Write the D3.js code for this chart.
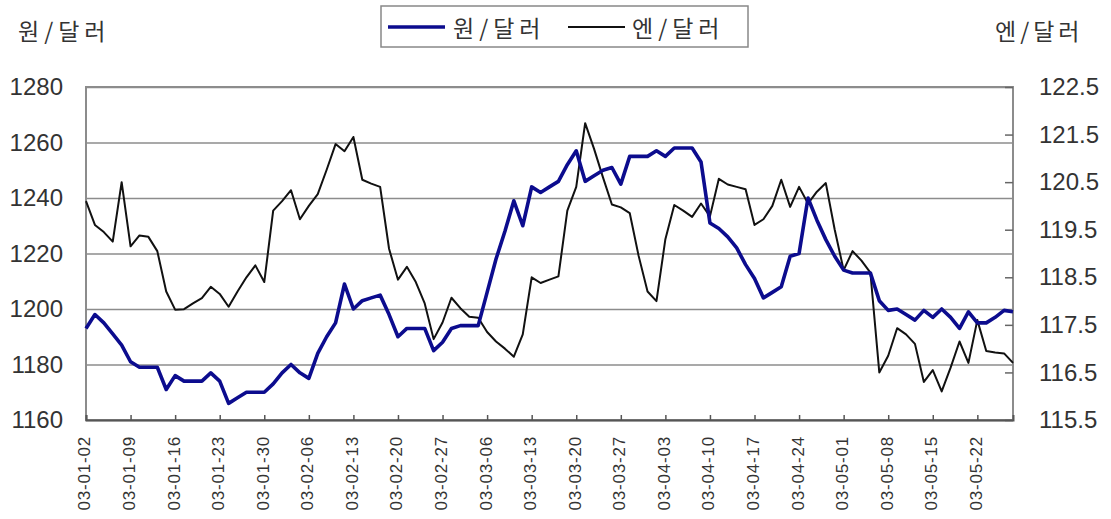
<!DOCTYPE html>
<html>
<head>
<meta charset="utf-8">
<script src="https://cdn.jsdelivr.net/npm/d3@7"></script>
<style>
  html, body { margin: 0; padding: 0; background: #fff; }
  svg { display: block; }
  .tick-text { font-family: "Liberation Sans", Arial, sans-serif; fill: #333; }
  .kr { font-family: "Noto Sans CJK KR", sans-serif; fill: #333; }
</style>
</head>
<body>
<svg id="chart" width="1111" height="519"></svg>
<script>
// ── 원/달러 · 엔/달러 환율 (2003-01 ~ 2003-05) ──────────────────────────

const dates = [
  "03-01-02","03-01-03","03-01-06","03-01-07","03-01-08","03-01-09","03-01-10","03-01-13","03-01-14","03-01-15",
  "03-01-16","03-01-17","03-01-20","03-01-21","03-01-22","03-01-23","03-01-24","03-01-27","03-01-28","03-01-29",
  "03-01-30","03-01-31","03-02-03","03-02-04","03-02-05","03-02-06","03-02-07","03-02-10","03-02-11","03-02-12",
  "03-02-13","03-02-14","03-02-17","03-02-18","03-02-19","03-02-20","03-02-21","03-02-24","03-02-25","03-02-26",
  "03-02-27","03-02-28","03-03-03","03-03-04","03-03-05","03-03-06","03-03-07","03-03-10","03-03-11","03-03-12",
  "03-03-13","03-03-14","03-03-17","03-03-18","03-03-19","03-03-20","03-03-21","03-03-24","03-03-25","03-03-26",
  "03-03-27","03-03-28","03-03-31","03-04-01","03-04-02","03-04-03","03-04-04","03-04-07","03-04-08","03-04-09",
  "03-04-10","03-04-11","03-04-14","03-04-15","03-04-16","03-04-17","03-04-18","03-04-21","03-04-22","03-04-23",
  "03-04-24","03-04-25","03-04-28","03-04-29","03-04-30","03-05-01","03-05-02","03-05-05","03-05-06","03-05-07",
  "03-05-08","03-05-09","03-05-12","03-05-13","03-05-14","03-05-15","03-05-16","03-05-19","03-05-20","03-05-21",
  "03-05-22","03-05-23","03-05-26","03-05-27","03-05-28"
];

// 원/달러 (left axis)
const won = [
  1193, 1198, 1195, 1191, 1187, 1181, 1179, 1179, 1179, 1171,
  1176, 1174, 1174, 1174, 1177, 1174, 1166, 1168, 1170, 1170,
  1170, 1173, 1177, 1180, 1177, 1175, 1184, 1190, 1195, 1209,
  1200, 1203, 1204, 1205, 1198, 1190, 1193, 1193, 1193, 1185,
  1188, 1193, 1194, 1194, 1194, 1206, 1218, 1228, 1239, 1230,
  1244, 1242, 1244, 1246, 1252, 1257, 1246, 1248, 1250, 1251,
  1245, 1255, 1255, 1255, 1257, 1255, 1258, 1258, 1258, 1253,
  1231, 1229, 1226, 1222, 1216, 1211, 1204, 1206, 1208, 1219,
  1220, 1240, 1232, 1225, 1219, 1214, 1213, 1213, 1213, 1203,
  1199.5, 1200, 1198, 1196, 1199.5, 1197, 1200, 1197, 1193, 1199,
  1195, 1195, 1197, 1199.5, 1199
];

// 엔/달러 (right axis)
const yen = [
  120.1, 119.6, 119.45, 119.25, 120.5, 119.15, 119.38, 119.35, 119.05, 118.2,
  117.82, 117.83, 117.95, 118.06, 118.3, 118.15, 117.88, 118.2, 118.5, 118.75,
  118.4, 119.9, 120.1, 120.33, 119.72, 120.0, 120.25, 120.76, 121.3, 121.15,
  121.45, 120.55, 120.47, 120.4, 119.1, 118.45, 118.72, 118.4, 117.95, 117.2,
  117.55, 118.07, 117.85, 117.67, 117.65, 117.35, 117.15, 117.0, 116.83, 117.3,
  118.5, 118.38, 118.45, 118.52, 119.9, 120.4, 121.74, 121.2, 120.6, 120.03,
  119.97, 119.85, 118.95, 118.2, 118.0, 119.3, 120.02, 119.9, 119.77, 120.05,
  119.78, 120.57, 120.45, 120.4, 120.35, 119.6, 119.72, 120.0, 120.55, 119.98,
  120.4, 120.05, 120.3, 120.48, 119.5, 118.65, 119.05, 118.85, 118.6, 116.5,
  116.85, 117.43, 117.3, 117.1, 116.3, 116.55, 116.1, 116.6, 117.15, 116.7,
  117.6, 116.95, 116.92, 116.9, 116.7
];

const wonTicks = [1160, 1180, 1200, 1220, 1240, 1260, 1280];
const yenTicks = [115.5, 116.5, 117.5, 118.5, 119.5, 120.5, 121.5, 122.5];
const dateTicks = dates.filter((d, i) => i % 5 === 0);
const seriesNames = ["원/달러", "엔/달러"];

const svg = d3.select("#chart");

// plot area
const margin = { top: 87, right: 98, bottom: 99, left: 86 };
const width = 1111, height = 519;
const innerWidth = width - margin.left - margin.right;
const innerHeight = height - margin.top - margin.bottom;

const xScale = d3.scalePoint().domain(dates).range([0, innerWidth]);
const yWon = d3.scaleLinear().domain([1160, 1280]).range([innerHeight, 0]);
const yYen = d3.scaleLinear().domain([115.5, 122.5]).range([innerHeight, 0]);

const group = svg.append("g").attr("transform", `translate(${margin.left},${margin.top})`);

// gridlines + left labels
const leftAxis = group.append("g")
  .call(d3.axisLeft(yWon).tickValues(wonTicks).tickSize(-innerWidth).tickPadding(23).tickFormat(d3.format("d")));
leftAxis.select(".domain").remove();
leftAxis.selectAll("line").attr("stroke", "#8c8c8c").attr("stroke-width", 1.6);
leftAxis.selectAll("text").attr("class", "tick-text").attr("font-size", 24);

// plot border
group.append("rect")
  .attr("x", 0).attr("y", 0)
  .attr("width", innerWidth).attr("height", innerHeight)
  .attr("fill", "none").attr("stroke", "#8c8c8c").attr("stroke-width", 2);

// right axis
const rightAxis = group.append("g")
  .attr("transform", `translate(${innerWidth},0)`)
  .call(d3.axisRight(yYen).tickValues(yenTicks).tickSize(-8).tickPadding(26).tickFormat(d3.format(".1f")));
rightAxis.select(".domain").remove();
rightAxis.selectAll("line").attr("stroke", "#666").attr("stroke-width", 1.5);
rightAxis.selectAll("text").attr("class", "tick-text").attr("font-size", 24);

// bottom axis
const xAxis = group.append("g")
  .attr("transform", `translate(0,${innerHeight})`)
  .call(d3.axisBottom(xScale).tickValues(dateTicks).tickSize(-5).tickPadding(0));
xAxis.select(".domain").attr("stroke", "#555").attr("stroke-width", 2);
xAxis.selectAll("line").attr("stroke", "#555").attr("stroke-width", 1.5);
xAxis.selectAll("text")
  .attr("class", "tick-text")
  .attr("font-size", 17)
  .attr("letter-spacing", 0.8)
  .attr("text-anchor", "end")
  .attr("transform", "rotate(-90)")
  .attr("x", -16)
  .attr("y", -2)
  .attr("dy", "0.35em");

// lines
const yenLine = d3.line().x((d, i) => xScale(dates[i])).y((d) => yYen(d));
const wonLine = d3.line().x((d, i) => xScale(dates[i])).y((d) => yWon(d));

group.append("path")
  .datum(yen)
  .attr("d", yenLine)
  .attr("fill", "none")
  .attr("stroke", "#111")
  .attr("stroke-width", 2)
  .attr("stroke-linejoin", "round");

group.append("path")
  .datum(won)
  .attr("d", wonLine)
  .attr("fill", "none")
  .attr("stroke", "#0c0c8e")
  .attr("stroke-width", 3.6)
  .attr("stroke-linejoin", "round");

// axis titles
svg.append("text").attr("class", "kr")
  .attr("x", 18).attr("y", 30)
  .attr("dominant-baseline", "central")
  .attr("font-size", 23).attr("letter-spacing", 5)
  .text(seriesNames[0]);
svg.append("text").attr("class", "kr")
  .attr("x", 995).attr("y", 30)
  .attr("dominant-baseline", "central")
  .attr("font-size", 23).attr("letter-spacing", 4)
  .text(seriesNames[1]);

// legend
const legend = svg.append("g");
legend.append("rect")
  .attr("x", 381).attr("y", 6)
  .attr("width", 367).attr("height", 41)
  .attr("fill", "#fff").attr("stroke", "#888").attr("stroke-width", 1.5);
legend.append("line")
  .attr("x1", 388).attr("x2", 445).attr("y1", 27).attr("y2", 27)
  .attr("stroke", "#0c0c8e").attr("stroke-width", 3.6);
legend.append("text").attr("class", "kr")
  .attr("x", 453).attr("y", 27)
  .attr("dominant-baseline", "central")
  .attr("font-size", 23).attr("letter-spacing", 5)
  .text(seriesNames[0]);
legend.append("line")
  .attr("x1", 568).attr("x2", 625).attr("y1", 27).attr("y2", 27)
  .attr("stroke", "#111").attr("stroke-width", 2);
legend.append("text").attr("class", "kr")
  .attr("x", 632).attr("y", 27)
  .attr("dominant-baseline", "central")
  .attr("font-size", 23).attr("letter-spacing", 5)
  .text(seriesNames[1]);
</script>
</body>
</html>
